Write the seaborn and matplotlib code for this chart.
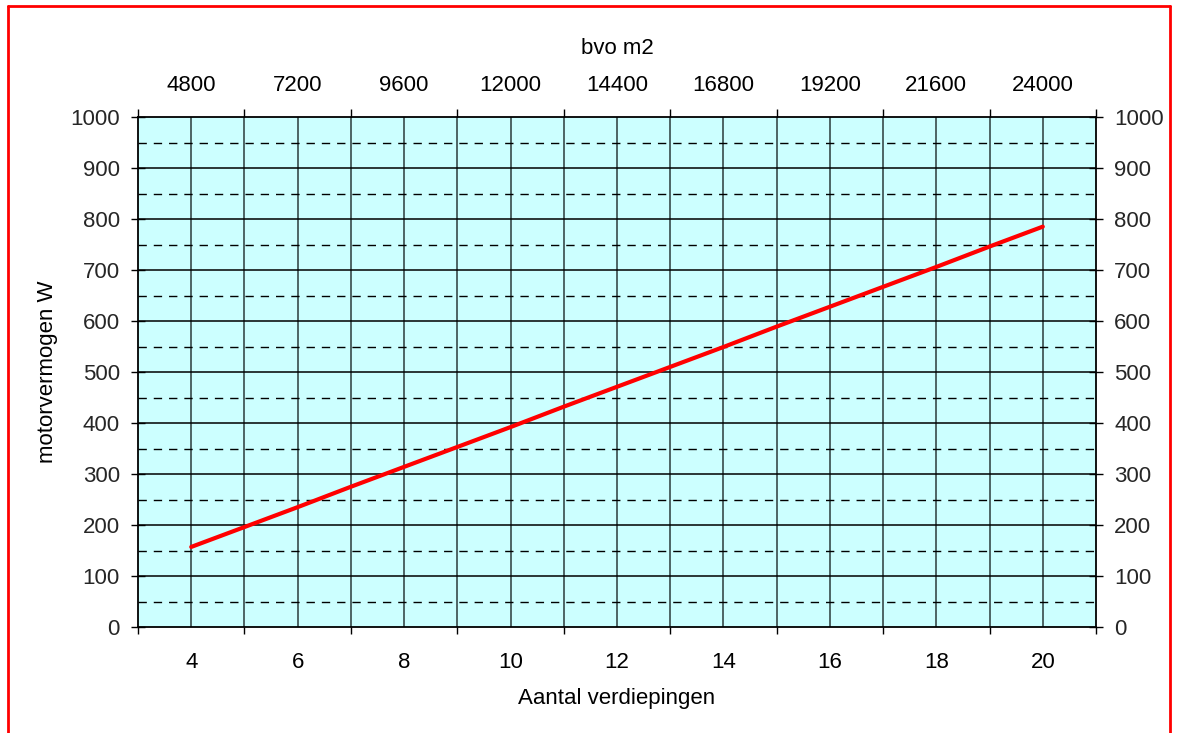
import matplotlib
matplotlib.use("Agg")
import matplotlib.pyplot as plt
import seaborn as sns
import pandas as pd
from matplotlib.lines import Line2D

# Number of floors and the motor power (W) needed for each
floors = [4, 5, 6, 7, 8, 9, 10, 11, 12, 13, 14, 15, 16, 17, 18, 19, 20]
power_w = [157, 196, 235, 275, 314, 353, 392, 432, 471, 510, 549, 589, 628, 667, 706, 746, 785]

# Gross floor area labels for the top axis (per two floors)
top_positions = [4, 6, 8, 10, 12, 14, 16, 18, 20]
top_labels = ["4800", "7200", "9600", "12000", "14400", "16800", "19200", "21600", "24000"]
bottom_positions = [4, 6, 8, 10, 12, 14, 16, 18, 20]
bottom_labels = ["4", "6", "8", "10", "12", "14", "16", "18", "20"]

sns.set_theme(style="white")
plt.rcParams["font.family"] = ["Liberation Sans", "DejaVu Sans"]

df = pd.DataFrame({"floors": floors, "power": power_w})

fig = plt.figure(figsize=(11.78, 7.33), dpi=100)
ax = fig.add_axes([138 / 1178, 1 - 627 / 733, (1096 - 138) / 1178, (627 - 117) / 733])
ax.set_facecolor("#ccffff")

XMIN, XMAX = 3, 21
YMIN, YMAX = 0, 1000
ax.set_xlim(XMIN, XMAX)
ax.set_ylim(YMIN, YMAX)

# Grid: every floor vertically, 100 W solid, 50 W dashed
for x in range(XMIN + 1, XMAX):
    ax.axvline(x, color="#2b3b3b", lw=1.1, zorder=1)
for y in range(100, 1000, 100):
    ax.axhline(y, color="black", lw=1.1, zorder=1)
for y in range(50, 1000, 100):
    ax.axhline(y, color="black", lw=1.0, ls=(0, (6, 5)), zorder=1)

sns.lineplot(data=df, x="floors", y="power", ax=ax, color="#ff0000", lw=3, zorder=3)

for s in ax.spines.values():
    s.set_color("black")
    s.set_linewidth(1.3)

tick_font = 16
odd_ticks = list(range(XMIN, XMAX + 1, 2))

# Bottom axis: tick marks between categories, labels on even floors
ax.set_xticks(odd_ticks)
ax.set_xticklabels([])
ax.set_xticks(bottom_positions, minor=True)
ax.set_xticklabels(bottom_labels, minor=True)
ax.tick_params(axis="x", which="major", direction="out", length=5, width=1, color="black",
               bottom=True)
ax.tick_params(axis="x", which="minor", length=0, pad=18, labelsize=tick_font, colors="black",
               bottom=True)
ax.set_xlabel("Aantal verdiepingen", fontsize=tick_font, color="black", labelpad=11)

ax.set_yticks(range(0, 1001, 100))
ax.tick_params(axis="y", direction="inout", length=10, width=1, color="black",
               labelsize=tick_font, pad=8, left=True)
ax.set_ylabel("motorvermogen W", fontsize=tick_font, color="black", labelpad=9)

# Right axis mirrors the power scale
axr = ax.twinx()
axr.set_ylim(YMIN, YMAX)
axr.set_yticks(range(0, 1001, 100))
axr.tick_params(axis="y", direction="inout", length=10, width=1, color="black",
                labelsize=tick_font, pad=8, right=True)
axr.grid(False)
for s in axr.spines.values():
    s.set_visible(False)

# Top axis: gross floor area
axt = ax.twiny()
axt.set_xlim(XMIN, XMAX)
axt.set_xticks(odd_ticks)
axt.set_xticklabels([])
axt.set_xticks(top_positions, minor=True)
axt.set_xticklabels(top_labels, minor=True)
axt.tick_params(axis="x", which="major", direction="out", length=6, width=1, color="black",
                top=True)
axt.tick_params(axis="x", which="minor", length=0, pad=15, labelsize=tick_font, colors="black",
                top=True)
axt.set_xlabel("bvo m2", fontsize=tick_font, color="black", labelpad=15.5)
axt.grid(False)
for s in axt.spines.values():
    s.set_visible(False)

# Red frame around the figure
for (x0, y0, x1, y1) in [(8 / 1178, 1 - 6 / 733, 1170 / 1178, 1 - 6 / 733),
                         (8 / 1178, 1 - 6 / 733, 8 / 1178, 0),
                         (1170 / 1178, 1 - 6 / 733, 1170 / 1178, 0)]:
    fig.add_artist(Line2D([x0, x1], [y0, y1], transform=fig.transFigure, color="#ff0000", lw=2))

fig.savefig("out.png", dpi=100, facecolor="white")
